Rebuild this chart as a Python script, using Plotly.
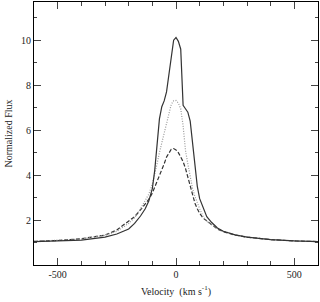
import plotly.graph_objects as go

velocity = [-600, -500, -400, -300, -250, -200, -175, -150, -130, -115, -100, -90, -80, -70, -60, -50, -40, -30, -20, -10,
            0, 10, 20, 30, 40, 50, 60, 70, 80, 90, 100, 115, 130, 150, 175, 200, 250, 300, 400, 500, 600]

flux_solid = [1.04, 1.07, 1.11, 1.24, 1.38, 1.60, 1.85, 2.18, 2.50, 2.85, 3.40, 4.20, 5.30, 6.50, 7.04, 7.30, 7.70, 8.40, 9.30, 10.00,
              10.12, 9.95, 9.60, 7.10, 6.95, 6.80, 6.40, 5.40, 4.40, 3.50, 2.95, 2.50, 2.15, 1.90, 1.65, 1.50, 1.34, 1.24, 1.13, 1.07, 1.04]

flux_dotted = [1.05, 1.09, 1.16, 1.32, 1.50, 1.85, 2.10, 2.50, 2.85, 3.15, 3.60, 4.00, 4.50, 5.00, 5.42, 5.90, 6.30, 6.70, 7.15, 7.30,
               7.32, 7.20, 6.95, 6.20, 5.10, 4.50, 3.95, 3.40, 3.05, 2.75, 2.50, 2.15, 1.95, 1.80, 1.62, 1.50, 1.34, 1.25, 1.13, 1.07, 1.04]

flux_dashed = [1.05, 1.09, 1.17, 1.33, 1.56, 1.95, 2.15, 2.45, 2.70, 2.92, 3.20, 3.45, 3.70, 3.95, 4.22, 4.50, 4.80, 5.00, 5.15, 5.18,
               5.12, 5.00, 4.80, 4.60, 4.30, 3.90, 3.50, 3.05, 2.75, 2.50, 2.30, 2.08, 1.95, 1.78, 1.60, 1.48, 1.33, 1.24, 1.13, 1.07, 1.04]

x_tickvals = [-500, 0, 500]
x_ticktext = ["-500", "0", "500"]
y_tickvals = [2, 4, 6, 8, 10]
y_ticktext = ["2", "4", "6", "8", "10"]

fig = go.Figure()
fig.add_trace(go.Scatter(x=velocity, y=flux_dashed, mode="lines",
                         line=dict(color="#333333", width=1.2, dash="4px,2px")))
fig.add_trace(go.Scatter(x=velocity, y=flux_dotted, mode="lines",
                         line=dict(color="#999999", width=1.2, dash="1px,1.5px")))
fig.add_trace(go.Scatter(x=velocity, y=flux_solid, mode="lines",
                         line=dict(color="#333333", width=1.2)))

font = dict(family="Liberation Serif, Times New Roman, serif", size=10, color="#222222")

fig.update_layout(
    width=320, height=302,
    margin=dict(l=34, r=2, t=2, b=37),
    paper_bgcolor="white", plot_bgcolor="white",
    showlegend=False,
    font=font,
    xaxis=dict(range=[-600, 600], tickvals=x_tickvals, ticktext=x_ticktext,
               ticks="inside", ticklen=7, tickcolor="#444444", tickwidth=1,
               showline=True, linecolor="black", linewidth=1, mirror="ticks",
               showgrid=False, zeroline=False, automargin=False,
               minor=dict(ticks="inside", ticklen=4, dtick=100, tick0=0, tickcolor="#444444", showgrid=False),
               title=dict(text="Velocity  (km s<sup>-1</sup>)", standoff=8, font=dict(size=10)),
               tickfont=dict(size=10)),
    yaxis=dict(range=[0, 11.7], tickvals=y_tickvals, ticktext=y_ticktext,
               ticks="inside", ticklen=7, tickcolor="#444444", tickwidth=1,
               showline=True, linecolor="black", linewidth=1, mirror="ticks",
               showgrid=False, zeroline=False, automargin=False,
               minor=dict(ticks="inside", ticklen=3, dtick=1, tick0=1, tickcolor="#444444", showgrid=False),
               title=dict(text="Normalized Flux", standoff=6, font=dict(size=10)),
               tickfont=dict(size=10)),
)

fig.write_html("out.html", config={"displayModeBar": False},
               post_script="document.body.style.margin='0';")
